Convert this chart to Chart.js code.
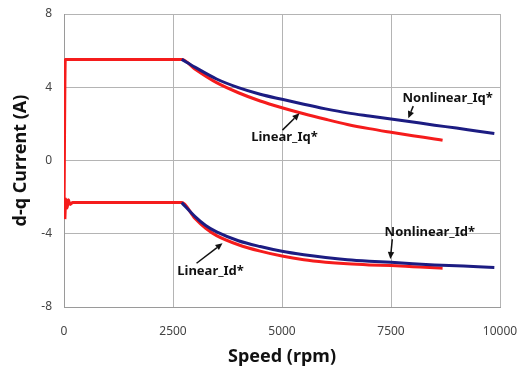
<!DOCTYPE html>
<html>
<head>
<meta charset="utf-8">
<script src="https://cdn.jsdelivr.net/npm/chart.js@4.4.1/dist/chart.umd.min.js"></script>
<style>
html,body{margin:0;padding:0;background:#fff;}
#wrap{width:520px;height:372px;position:relative;}
</style>
</head>
<body>
<div id="wrap"><canvas id="c" width="520" height="372"></canvas></div>
<script>
// ---- data (speed in rpm, current in A) ----
const xTicks = [0, 2500, 5000, 7500, 10000];
const yTicks = [-8, -4, 0, 4, 8];

const linearIqSpeed = [0, 30, 2700, 3000, 3500, 4000, 4500, 5000, 5500, 6000, 6500, 7000, 7500, 8000, 8500, 8683];
const linearIq      = [-3.0, 5.52, 5.52, 5.0, 4.25, 3.7, 3.25, 2.88, 2.55, 2.25, 1.97, 1.74, 1.54, 1.35, 1.18, 1.11];

const linearIdSpeed = [20, 40, 70, 100, 140, 200, 2700, 3000, 3250, 3500, 4000, 4500, 5000, 5500, 6000, 6500, 7000, 7500, 8000, 8500, 8683];
const linearId      = [-3.2, -2.1, -2.6, -2.15, -2.4, -2.3, -2.3, -3.15, -3.7, -4.1, -4.6, -4.95, -5.22, -5.42, -5.55, -5.64, -5.7, -5.74, -5.8, -5.86, -5.88];

const nonlinIqSpeed = [2700, 3000, 3500, 4000, 4500, 5000, 5500, 6000, 6500, 7000, 7500, 8000, 8500, 9000, 9500, 9870];
const nonlinIq      = [5.52, 5.1, 4.45, 3.98, 3.62, 3.34, 3.07, 2.82, 2.6, 2.43, 2.27, 2.1, 1.93, 1.77, 1.6, 1.48];

const nonlinIdSpeed = [2700, 3000, 3250, 3500, 4000, 4500, 5000, 5500, 6000, 6500, 7000, 7500, 8000, 8500, 9000, 9500, 9870];
const nonlinId      = [-2.3, -3.05, -3.55, -3.9, -4.38, -4.7, -4.96, -5.15, -5.3, -5.42, -5.5, -5.56, -5.64, -5.7, -5.75, -5.8, -5.84];

const labelTexts = ['Nonlinear_Iq*', 'Linear_Iq*', 'Linear_Id*', 'Nonlinear_Id*'];

// annotation anchors in data units: text centre, arrow start, arrow tip
const annotations = [
  {text: labelTexts[0], tx: 8800, ty: 3.40, ax: 8010, ay: 2.97, bx: 7897, by: 2.31},
  {text: labelTexts[1], tx: 5056, ty: 1.27, ax: 5010, ay: 1.66, bx: 5400, by: 2.58},
  {text: labelTexts[2], tx: 3361, ty: -6.05, ax: 3040, ay: -5.61, bx: 3636, by: -4.52},
  {text: labelTexts[3], tx: 8390, ty: -3.92, ax: 7530, ay: -4.30, bx: 7485, by: -5.38}
];

const pts = (xs, ys) => xs.map((x, i) => ({x: x, y: ys[i]}));

const RED = '#f51c1c';
const BLUE = '#1c1c82';

const annotPlugin = {
  id: 'annot',
  afterDatasetsDraw(chart) {
    const ctx = chart.ctx;
    const xs = chart.scales.x, ys = chart.scales.y;
    ctx.save();
    ctx.fillStyle = '#111';
    ctx.strokeStyle = '#111';
    ctx.font = 'bold 13px "Noto Sans", "Liberation Sans", sans-serif';
    ctx.textAlign = 'center';
    ctx.textBaseline = 'middle';
    annotations.forEach(a => {
      ctx.fillText(a.text, xs.getPixelForValue(a.tx), ys.getPixelForValue(a.ty));
      const x1 = xs.getPixelForValue(a.ax), y1 = ys.getPixelForValue(a.ay);
      const x2 = xs.getPixelForValue(a.bx), y2 = ys.getPixelForValue(a.by);
      const ang = Math.atan2(y2 - y1, x2 - x1);
      const hl = 7, hw = 3.2;
      const bxp = x2 - hl * Math.cos(ang), byp = y2 - hl * Math.sin(ang);
      ctx.lineWidth = 1.5;
      ctx.beginPath(); ctx.moveTo(x1, y1); ctx.lineTo(bxp, byp); ctx.stroke();
      ctx.beginPath();
      ctx.moveTo(x2, y2);
      ctx.lineTo(bxp + hw * Math.sin(ang), byp - hw * Math.cos(ang));
      ctx.lineTo(bxp - hw * Math.sin(ang), byp + hw * Math.cos(ang));
      ctx.closePath(); ctx.fill();
    });
    ctx.restore();
  }
};

const tickFont = {family: '"Noto Sans", "Open Sans", sans-serif', size: 12};
const titleFont = {family: '"Noto Sans", "Liberation Sans", sans-serif', size: 18, weight: 'bold'};

new Chart(document.getElementById('c'), {
  type: 'line',
  data: {
    datasets: [
      {label: 'Linear_Iq*', data: pts(linearIqSpeed, linearIq), borderColor: RED, borderWidth: 3, pointRadius: 0, cubicInterpolationMode: 'monotone', order: 2},
      {label: 'Linear_Id*', data: pts(linearIdSpeed, linearId), borderColor: RED, borderWidth: 3, pointRadius: 0, cubicInterpolationMode: 'monotone', order: 2},
      {label: 'Nonlinear_Iq*', data: pts(nonlinIqSpeed, nonlinIq), borderColor: BLUE, borderWidth: 3, pointRadius: 0, cubicInterpolationMode: 'monotone', order: 1},
      {label: 'Nonlinear_Id*', data: pts(nonlinIdSpeed, nonlinId), borderColor: BLUE, borderWidth: 3, pointRadius: 0, cubicInterpolationMode: 'monotone', order: 1}
    ]
  },
  options: {
    responsive: false,
    animation: false,
    devicePixelRatio: 1,
    layout: {padding: 0},
    plugins: {legend: {display: false}, tooltip: {enabled: false}},
    scales: {
      x: {
        type: 'linear', min: 0, max: 10000,
        afterBuildTicks: s => { s.ticks = xTicks.map(v => ({value: v})); },
        afterFit: s => { s.height = 65; s.paddingLeft = 0; s.paddingRight = 20; },
        grid: {color: '#b4b4b4', lineWidth: 1, drawTicks: false},
        border: {display: true, color: '#9a9a9a'},
        ticks: {font: tickFont, color: '#444', padding: 17, maxRotation: 0, callback: v => String(v)},
        title: {display: true, text: 'Speed (rpm)', font: titleFont, color: '#111', padding: {top: 4, bottom: 4}}
      },
      y: {
        type: 'linear', min: -8, max: 8,
        afterBuildTicks: s => { s.ticks = yTicks.map(v => ({value: v})); },
        afterFit: s => { s.width = 64; s.paddingTop = 14; s.paddingBottom = 0; },
        grid: {color: '#b4b4b4', lineWidth: 1, drawTicks: false},
        border: {display: true, color: '#9a9a9a'},
        ticks: {font: tickFont, color: '#444', padding: 12, callback: v => String(v)},
        title: {display: true, text: 'd-q Current (A)', font: titleFont, color: '#111', padding: {top: 10, bottom: 4}}
      }
    }
  },
  plugins: [annotPlugin]
});
</script>
</body>
</html>
